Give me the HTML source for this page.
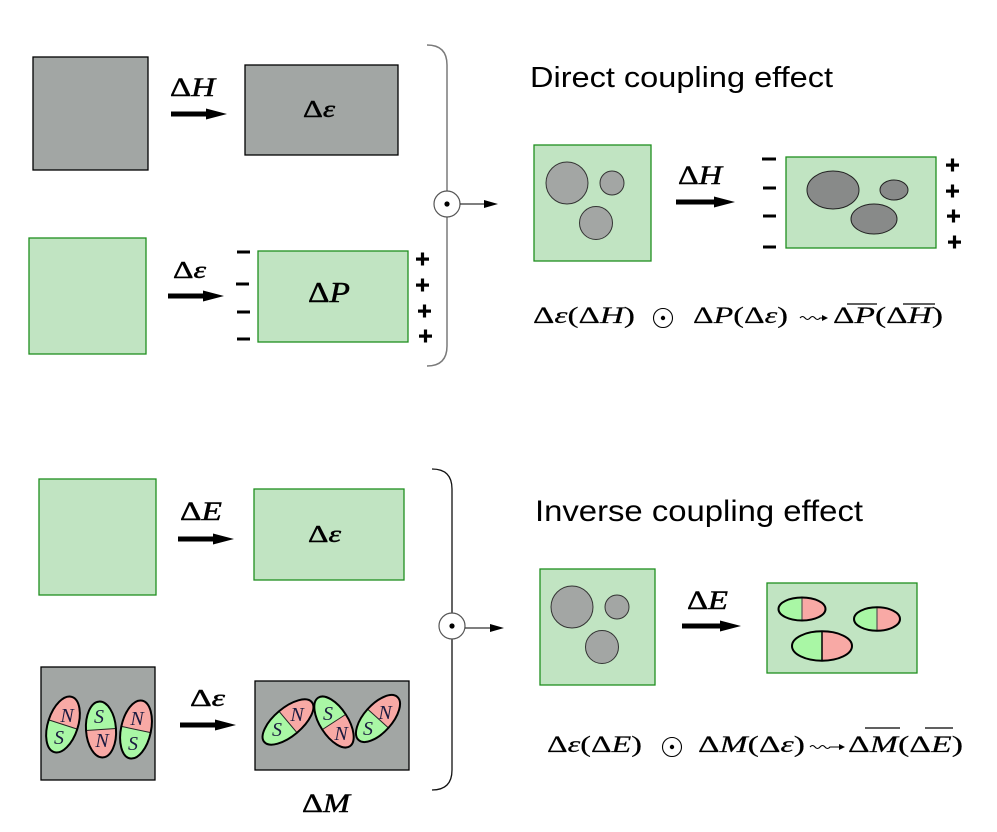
<!DOCTYPE html>
<html><head><meta charset="utf-8"><style>
html,body{margin:0;padding:0;background:#fff;}
svg{display:block;}
.m{font-family:"Liberation Serif","DejaVu Serif",serif;font-weight:normal;fill:#000;stroke:#000;stroke-width:0.45px;}
.f{font-family:"Liberation Serif","DejaVu Serif",serif;font-weight:normal;fill:#000;stroke:#000;stroke-width:0.2px;}
.i{font-style:italic;}
.t{font-family:"Liberation Sans","DejaVu Sans",sans-serif;fill:#000;}
.nl{font-family:"Liberation Serif",serif;font-style:italic;font-size:20px;fill:#1a1a40;text-anchor:middle;}
</style></head><body>
<svg width="997" height="832" viewBox="0 0 997 832" xmlns="http://www.w3.org/2000/svg">
<!-- ===== TOP LEFT ===== -->
<rect x="33" y="57" width="115" height="113" fill="#a2a6a4" stroke="#000" stroke-width="1.3"/>
<text class="m" x="170" y="96" font-size="26" textLength="45" lengthAdjust="spacingAndGlyphs">Δ<tspan class="i">H</tspan></text>
<rect x="171" y="111.5" width="38" height="5"/><polygon points="206,108.5 227,114 206,119.5"/>
<rect x="245" y="65" width="153" height="90" fill="#a2a6a4" stroke="#000" stroke-width="1.3"/>
<text class="m" x="303" y="117" font-size="24" textLength="32" lengthAdjust="spacingAndGlyphs">Δ<tspan class="i">ε</tspan></text>

<rect x="29" y="238" width="117" height="116" fill="#c1e4c2" stroke="#1f8f1f" stroke-width="1.3"/>
<text class="m" x="173" y="278" font-size="24" textLength="33" lengthAdjust="spacingAndGlyphs">Δ<tspan class="i">ε</tspan></text>
<rect x="168" y="293.5" width="38" height="5"/><polygon points="203,290.5 224,296 203,301.5"/>
<rect x="258" y="251" width="150" height="91" fill="#c1e4c2" stroke="#1f8f1f" stroke-width="1.3"/>
<text class="m" x="308" y="302" font-size="28" textLength="42" lengthAdjust="spacingAndGlyphs">Δ<tspan class="i">P</tspan></text>
<!-- minus -->
<rect x="237" y="250.5" width="13" height="3"/>
<rect x="236" y="282.5" width="13" height="3"/>
<rect x="237" y="310.5" width="13" height="3"/>
<rect x="237" y="337.5" width="13" height="3"/>
<!-- plus -->
<g fill="#000">
<rect x="416" y="257.5" width="13" height="3.2"/><rect x="420.9" y="252.5" width="3.2" height="13"/>
<rect x="416" y="283.5" width="13" height="3.2"/><rect x="420.9" y="278.5" width="3.2" height="13"/>
<rect x="418" y="309.5" width="13" height="3.2"/><rect x="422.9" y="304.5" width="3.2" height="13"/>
<rect x="419" y="334.5" width="13" height="3.2"/><rect x="423.9" y="329.5" width="3.2" height="13"/>
</g>
<!-- bracket top -->
<path d="M427 45 Q447 45 447 65 L447 346 Q447 366 427 366" fill="none" stroke="#7a7a7a" stroke-width="1.5"/>
<circle cx="447" cy="204" r="13" fill="#fff" stroke="#555" stroke-width="1.2"/>
<circle cx="447" cy="204" r="2.6" fill="#000"/>
<line x1="460" y1="204" x2="486" y2="204" stroke="#333" stroke-width="1.2"/>
<polygon points="484,200 498,204 484,208" fill="#000"/>

<!-- ===== TOP RIGHT ===== -->
<text class="t" x="530" y="87" font-size="29" textLength="303" lengthAdjust="spacingAndGlyphs">Direct coupling effect</text>
<rect x="534" y="145" width="117" height="116" fill="#c1e4c2" stroke="#1f8f1f" stroke-width="1.3"/>
<circle cx="567" cy="183" r="21" fill="#a3a6a4" stroke="#333" stroke-width="1"/>
<circle cx="612" cy="183" r="12" fill="#a3a6a4" stroke="#333" stroke-width="1"/>
<circle cx="596" cy="223" r="16.5" fill="#a3a6a4" stroke="#333" stroke-width="1"/>
<text class="m" x="678" y="184" font-size="26" textLength="44" lengthAdjust="spacingAndGlyphs">Δ<tspan class="i">H</tspan></text>
<rect x="676" y="199.5" width="40" height="5"/><polygon points="714,196.5 735,202 714,207.5"/>
<rect x="786" y="157" width="150" height="91" fill="#c1e4c2" stroke="#1f8f1f" stroke-width="1.3"/>
<ellipse cx="833" cy="190" rx="26" ry="19" fill="#888a89" stroke="#222" stroke-width="1"/>
<ellipse cx="894" cy="190" rx="14" ry="10" fill="#888a89" stroke="#222" stroke-width="1"/>
<ellipse cx="874" cy="219" rx="23" ry="15" fill="#888a89" stroke="#222" stroke-width="1"/>
<rect x="762" y="157.5" width="14" height="3"/>
<rect x="763" y="186.5" width="13" height="3"/>
<rect x="763" y="214.5" width="13" height="3"/>
<rect x="763" y="245.5" width="13" height="3"/>
<g fill="#000">
<rect x="946" y="163.5" width="13" height="3.2"/><rect x="950.9" y="158.5" width="3.2" height="13"/>
<rect x="946" y="189.5" width="13" height="3.2"/><rect x="950.9" y="184.5" width="3.2" height="13"/>
<rect x="947" y="214.5" width="13" height="3.2"/><rect x="951.9" y="209.5" width="3.2" height="13"/>
<rect x="948" y="240.5" width="13" height="3.2"/><rect x="952.9" y="235.5" width="3.2" height="13"/>
</g>
<!-- formula 1 -->
<text class="f" x="533" y="323" font-size="23" textLength="102" lengthAdjust="spacingAndGlyphs">Δ<tspan class="i">ε</tspan>(Δ<tspan class="i">H</tspan>)</text>
<circle cx="663" cy="318" r="9.5" fill="none" stroke="#000" stroke-width="1.1"/>
<circle cx="663" cy="318" r="2.2"/>
<text class="f" x="693" y="323" font-size="23" textLength="95" lengthAdjust="spacingAndGlyphs">Δ<tspan class="i">P</tspan>(Δ<tspan class="i">ε</tspan>)</text>
<path d="M800 318 q2.5 -3 5 0 t5 0 t5 0 t5 0 L826 318" fill="none" stroke="#000" stroke-width="1.1"/>
<polygon points="822,315 828,318 822,321"/>
<text class="f" x="833" y="323" font-size="23" textLength="110" lengthAdjust="spacingAndGlyphs">Δ<tspan class="i">P</tspan>(Δ<tspan class="i">H</tspan>)</text>
<line x1="847" y1="304" x2="877" y2="304" stroke="#000" stroke-width="1.2"/>
<line x1="903" y1="304" x2="935" y2="304" stroke="#000" stroke-width="1.2"/>

<!-- ===== BOTTOM LEFT ===== -->
<rect x="39" y="479" width="117" height="116" fill="#c1e4c2" stroke="#1f8f1f" stroke-width="1.3"/>
<text class="m" x="180" y="520" font-size="26" textLength="42" lengthAdjust="spacingAndGlyphs">Δ<tspan class="i">E</tspan></text>
<rect x="178" y="536.5" width="38" height="5"/><polygon points="213,533.5 234,539 213,544.5"/>
<rect x="254" y="489" width="150" height="91" fill="#c1e4c2" stroke="#1f8f1f" stroke-width="1.3"/>
<text class="m" x="308" y="542" font-size="24" textLength="33" lengthAdjust="spacingAndGlyphs">Δ<tspan class="i">ε</tspan></text>

<rect x="41" y="667" width="114" height="113" fill="#a2a6a4" stroke="#000" stroke-width="1.3"/>
<!-- left magnets -->
<g transform="translate(63,724.5) rotate(18)">
<path d="M-15 0 A15 29 0 0 1 15 0 Z" fill="#f8a9a5"/><path d="M-15 0 A15 29 0 0 0 15 0 Z" fill="#a9f7a5"/>
<line x1="-15" y1="0" x2="15" y2="0" stroke="#222" stroke-width="1"/>
<ellipse rx="15" ry="29" fill="none" stroke="#000" stroke-width="2"/></g>
<g transform="translate(101,729.5) rotate(-4)">
<path d="M-15 0 A15 28 0 0 1 15 0 Z" fill="#a9f7a5"/><path d="M-15 0 A15 28 0 0 0 15 0 Z" fill="#f8a9a5"/>
<line x1="-15" y1="0" x2="15" y2="0" stroke="#222" stroke-width="1"/>
<ellipse rx="15" ry="28" fill="none" stroke="#000" stroke-width="2"/></g>
<g transform="translate(136,729.5) rotate(12)">
<path d="M-15 0 A15 29.5 0 0 1 15 0 Z" fill="#f8a9a5"/><path d="M-15 0 A15 29.5 0 0 0 15 0 Z" fill="#a9f7a5"/>
<line x1="-15" y1="0" x2="15" y2="0" stroke="#222" stroke-width="1"/>
<ellipse rx="15" ry="29.5" fill="none" stroke="#000" stroke-width="2"/></g>
<text class="nl" x="67" y="722">N</text><text class="nl" x="59" y="744">S</text>
<text class="nl" x="99" y="723">S</text><text class="nl" x="102" y="747">N</text>
<text class="nl" x="137" y="725">N</text><text class="nl" x="133" y="750">S</text>

<text class="m" x="190" y="706" font-size="24" textLength="35" lengthAdjust="spacingAndGlyphs">Δ<tspan class="i">ε</tspan></text>
<rect x="180" y="722.5" width="38" height="5"/><polygon points="215,719.5 236,725 215,730.5"/>
<rect x="255" y="681" width="154" height="89" fill="#a2a6a4" stroke="#000" stroke-width="1.3"/>
<!-- right magnets -->
<g transform="translate(288,722) rotate(50)">
<path d="M-14 0 A14 31 0 0 1 14 0 Z" fill="#f8a9a5"/><path d="M-14 0 A14 31 0 0 0 14 0 Z" fill="#a9f7a5"/>
<line x1="-14" y1="0" x2="14" y2="0" stroke="#222" stroke-width="1"/>
<ellipse rx="14" ry="31" fill="none" stroke="#000" stroke-width="2"/></g>
<g transform="translate(334,722) rotate(-33)">
<path d="M-14 0 A14 29 0 0 1 14 0 Z" fill="#a9f7a5"/><path d="M-14 0 A14 29 0 0 0 14 0 Z" fill="#f8a9a5"/>
<line x1="-14" y1="0" x2="14" y2="0" stroke="#222" stroke-width="1"/>
<ellipse rx="14" ry="29" fill="none" stroke="#000" stroke-width="2"/></g>
<g transform="translate(378,718.5) rotate(42)">
<path d="M-14 0 A14 29 0 0 1 14 0 Z" fill="#f8a9a5"/><path d="M-14 0 A14 29 0 0 0 14 0 Z" fill="#a9f7a5"/>
<line x1="-14" y1="0" x2="14" y2="0" stroke="#222" stroke-width="1"/>
<ellipse rx="14" ry="29" fill="none" stroke="#000" stroke-width="2"/></g>
<text class="nl" x="297" y="721">N</text><text class="nl" x="277" y="736">S</text>
<text class="nl" x="328" y="720">S</text><text class="nl" x="341" y="740">N</text>
<text class="nl" x="385" y="719">N</text><text class="nl" x="368" y="735">S</text>

<text class="m" x="302" y="812" font-size="26" textLength="48" lengthAdjust="spacingAndGlyphs">Δ<tspan class="i">M</tspan></text>

<!-- bracket bottom -->
<path d="M432 469 Q452 469 452 489 L452 770 Q452 790 432 790" fill="none" stroke="#111" stroke-width="1.3"/>
<circle cx="452" cy="626" r="13" fill="#fff" stroke="#555" stroke-width="1.2"/>
<circle cx="452" cy="626" r="2.6" fill="#000"/>
<line x1="465" y1="628" x2="492" y2="628" stroke="#333" stroke-width="1.2"/>
<polygon points="490,624 504,628 490,632" fill="#000"/>

<!-- ===== BOTTOM RIGHT ===== -->
<text class="t" x="535" y="521" font-size="30" textLength="328" lengthAdjust="spacingAndGlyphs">Inverse coupling effect</text>
<rect x="540" y="569" width="115" height="116" fill="#c1e4c2" stroke="#1f8f1f" stroke-width="1.3"/>
<circle cx="572" cy="607" r="21" fill="#a3a6a4" stroke="#333" stroke-width="1"/>
<circle cx="617" cy="607" r="12" fill="#a3a6a4" stroke="#333" stroke-width="1"/>
<circle cx="602" cy="647" r="16.5" fill="#a3a6a4" stroke="#333" stroke-width="1"/>
<text class="m" x="687" y="609" font-size="26" textLength="41" lengthAdjust="spacingAndGlyphs">Δ<tspan class="i">E</tspan></text>
<rect x="682" y="623.5" width="40" height="5"/><polygon points="720,620.5 741,626 720,631.5"/>
<rect x="767" y="583" width="150" height="90" fill="#c1e4c2" stroke="#1f8f1f" stroke-width="1.3"/>
<g>
<path d="M802 597.5 A23.5 11.5 0 0 0 802 620.5 Z" fill="#a9f7a5"/><path d="M802 597.5 A23.5 11.5 0 0 1 802 620.5 Z" fill="#f8a9a5"/>
<line x1="802" y1="597.5" x2="802" y2="620.5" stroke="#555" stroke-width="1.2"/>
<ellipse cx="802" cy="609" rx="23.5" ry="11.5" fill="none" stroke="#000" stroke-width="2"/>
<path d="M877 607.3 A23 11.7 0 0 0 877 630.7 Z" fill="#a9f7a5"/><path d="M877 607.3 A23 11.7 0 0 1 877 630.7 Z" fill="#f8a9a5"/>
<line x1="877" y1="607.3" x2="877" y2="630.7" stroke="#555" stroke-width="1.2"/>
<ellipse cx="877" cy="619" rx="23" ry="11.7" fill="none" stroke="#000" stroke-width="2"/>
<path d="M822 631.3 A30 14.7 0 0 0 822 660.7 Z" fill="#a9f7a5"/><path d="M822 631.3 A30 14.7 0 0 1 822 660.7 Z" fill="#f8a9a5"/>
<line x1="822" y1="631.3" x2="822" y2="660.7" stroke="#000" stroke-width="1.5"/>
<ellipse cx="822" cy="646" rx="30" ry="14.7" fill="none" stroke="#000" stroke-width="2"/>
</g>
<!-- formula 2 -->
<text class="f" x="547" y="752" font-size="23" textLength="95" lengthAdjust="spacingAndGlyphs">Δ<tspan class="i">ε</tspan>(Δ<tspan class="i">E</tspan>)</text>
<circle cx="672" cy="747" r="9.5" fill="none" stroke="#000" stroke-width="1.1"/>
<circle cx="672" cy="747" r="2.2"/>
<text class="f" x="698" y="752" font-size="23" textLength="107" lengthAdjust="spacingAndGlyphs">Δ<tspan class="i">M</tspan>(Δ<tspan class="i">ε</tspan>)</text>
<path d="M810 747 q2.5 -3 5 0 t5 0 t5 0 t5 0 L843 747" fill="none" stroke="#000" stroke-width="1.1"/>
<polygon points="839,744 845,747 839,750"/>
<text class="f" x="848" y="752" font-size="23" textLength="115" lengthAdjust="spacingAndGlyphs">Δ<tspan class="i">M</tspan>(Δ<tspan class="i">E</tspan>)</text>
<line x1="865" y1="728" x2="900" y2="728" stroke="#000" stroke-width="1.2"/>
<line x1="925" y1="728" x2="953" y2="728" stroke="#000" stroke-width="1.2"/>
</svg>
</body></html>
